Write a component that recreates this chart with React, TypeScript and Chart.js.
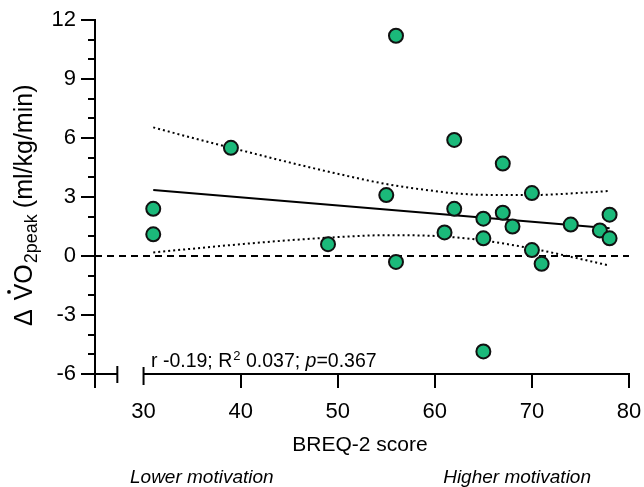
import React, { useEffect, useRef } from "react";
import { Chart, registerables } from "chart.js";

Chart.register(...registerables);

// ---- data ----
const breqScores = [31, 31, 39, 49, 55, 56, 56, 61, 62, 62, 65, 65, 65, 67, 67, 68, 70, 70, 71, 74, 77, 78, 78];
const vo2Change = [2.4, 1.1, 5.5, 0.6, 3.1, 11.2, -0.3, 1.2, 5.9, 2.4, 1.9, 0.9, -4.85, 4.7, 2.2, 1.5, 3.2, 0.3, -0.4, 1.6, 1.3, 2.1, 0.9];

const fitX = [31, 78];
const fitY = [3.36, 1.41];

const bandX = [31, 35, 40, 45, 50, 55, 60, 62, 65, 70, 75, 78];
const bandUpper = [6.54, 6.01, 5.38, 4.76, 4.18, 3.66, 3.3, 3.19, 3.11, 3.1, 3.21, 3.31];
const bandLower = [0.18, 0.37, 0.6, 0.8, 0.96, 1.06, 1.02, 0.95, 0.79, 0.38, -0.15, -0.49];

const zeroLineX = [25, 80];
const zeroLineY = [0, 0];

const xTicks = [25, 30, 40, 50, 60, 70, 80];
const yTicks = [-6, -3, 0, 3, 6, 9, 12];
const yMinorTicks = [-5, -4, -2, -1, 1, 2, 4, 5, 7, 8, 10, 11];
const xBreakEnd = 27.3;

const xTitle = "BREQ-2 score";
const lowLabel = "Lower motivation";
const highLabel = "Higher motivation";

const FONT = '"Liberation Sans", Arial, Helvetica, sans-serif';
const GREEN = "#1bb97a";

const overlayPlugin = {
  id: "overlay",
  afterDraw(chart: any) {
    const { ctx, chartArea } = chart;
    const x = chart.scales.x;
    const y = chart.scales.y;
    const axisY = Math.round(y.getPixelForValue(-6));
    const left = chartArea.left;
    const line = (x1: number, y1: number, x2: number, y2: number) => {
      ctx.beginPath();
      ctx.moveTo(x1, y1);
      ctx.lineTo(x2, y2);
      ctx.stroke();
    };
    ctx.save();
    ctx.strokeStyle = "#000";
    ctx.lineWidth = 2;
    ctx.lineCap = "butt";
    ctx.setLineDash([]);
    // minor y ticks
    yMinorTicks.forEach((v) => {
      const py = Math.round(y.getPixelForValue(v));
      line(left - 7, py, left, py);
    });
    // broken x axis
    const x0 = x.getPixelForValue(25);
    const xb = x.getPixelForValue(xBreakEnd);
    const x30 = x.getPixelForValue(30);
    const x80 = x.getPixelForValue(80);
    line(x0 - 1, axisY, xb, axisY);
    line(xb, axisY - 8, xb, axisY + 9);
    line(x30, axisY, x80 + 1, axisY);
    line(x30, axisY - 7, x30, axisY + 11);

    ctx.fillStyle = "#000";
    ctx.textBaseline = "alphabetic";

    // y title (rotated)
    ctx.save();
    ctx.translate(32, 0);
    ctx.rotate(-Math.PI / 2);
    ctx.textAlign = "left";
    let u = -326;
    ctx.font = `25px ${FONT}`;
    ctx.fillText("\u0394", u, 0);
    u += ctx.measureText("\u0394").width + 9;
    const vW = ctx.measureText("V").width;
    ctx.fillText("V", u, 0);
    ctx.beginPath();
    ctx.arc(u + vW / 2, -23, 1.9, 0, Math.PI * 2);
    ctx.fill();
    u += vW;
    ctx.fillText("O", u, 0);
    u += ctx.measureText("O").width + 1;
    ctx.font = `18px ${FONT}`;
    ctx.fillText("2peak", u, 5);
    u += ctx.measureText("2peak").width + 6;
    ctx.font = `25px ${FONT}`;
    ctx.fillText("(ml/kg/min)", u, 0);
    ctx.restore();

    // x title
    ctx.textAlign = "center";
    ctx.font = `21px ${FONT}`;
    ctx.fillText(xTitle, 360, 451);

    // motivation labels
    ctx.font = `italic 19px ${FONT}`;
    ctx.textAlign = "left";
    ctx.fillText(lowLabel, 130, 483);
    ctx.textAlign = "right";
    ctx.fillText(highLabel, 591, 483);

    // stats annotation
    ctx.textAlign = "left";
    let sx = 151;
    const sy = 366.5;
    ctx.font = `19.5px ${FONT}`;
    const p1 = "r -0.19; R";
    ctx.fillText(p1, sx, sy);
    sx += ctx.measureText(p1).width + 1;
    ctx.font = `13px ${FONT}`;
    ctx.fillText("2", sx, sy - 7);
    sx += ctx.measureText("2").width;
    ctx.font = `19.5px ${FONT}`;
    const p2 = " 0.037; ";
    ctx.fillText(p2, sx, sy);
    sx += ctx.measureText(p2).width;
    ctx.font = `italic 19.5px ${FONT}`;
    ctx.fillText("p", sx, sy);
    sx += ctx.measureText("p").width;
    ctx.font = `19.5px ${FONT}`;
    ctx.fillText("=0.367", sx, sy);
    ctx.restore();
  },
};

export default function App() {
  const canvasRef = useRef<HTMLCanvasElement | null>(null);

  useEffect(() => {
    document.body.style.margin = "0";
    const canvas = canvasRef.current;
    if (!canvas) return;
    const toPts = (xs: number[], ys: number[]) => xs.map((v, i) => ({ x: v, y: ys[i] }));
    const chart = new Chart(canvas, {
      type: "scatter",
      data: {
        datasets: [
          {
            label: "Participants",
            data: toPts(breqScores, vo2Change),
            backgroundColor: GREEN,
            borderColor: "#111",
            borderWidth: 2,
            pointRadius: 7,
            pointHoverRadius: 7,
          },
          {
            label: "Regression",
            data: toPts(fitX, fitY),
            showLine: true,
            borderColor: "#000",
            borderWidth: 2,
            pointRadius: 0,
          },
          {
            label: "Upper 95% CI",
            data: toPts(bandX, bandUpper),
            showLine: true,
            borderColor: "#000",
            borderWidth: 2,
            borderDash: [2, 3],
            pointRadius: 0,
            cubicInterpolationMode: "monotone",
          },
          {
            label: "Lower 95% CI",
            data: toPts(bandX, bandLower),
            showLine: true,
            borderColor: "#000",
            borderWidth: 2,
            borderDash: [2, 3],
            pointRadius: 0,
            cubicInterpolationMode: "monotone",
          },
          {
            label: "Zero",
            data: toPts(zeroLineX, zeroLineY),
            showLine: true,
            borderColor: "#000",
            borderWidth: 2,
            borderDash: [7, 5],
            pointRadius: 0,
          },
        ],
      },
      options: {
        animation: false,
        responsive: false,
        devicePixelRatio: 1,
        layout: { padding: { top: 20, right: 15, left: 0, bottom: 0 } },
        plugins: { legend: { display: false }, tooltip: { enabled: false } },
        scales: {
          x: {
            type: "linear",
            min: 25,
            max: 80,
            afterBuildTicks: (s: any) => {
              s.ticks = xTicks.map((v) => ({ value: v }));
            },
            afterFit: (s: any) => {
              s.height = 113;
              s.paddingLeft = 0;
              s.paddingRight = 0;
            },
            ticks: {
              font: { family: FONT, size: 22 },
              color: "#000",
              padding: 11,
              autoSkip: false,
              maxRotation: 0,
              callback: (v: any) => (v === 25 ? "" : String(v)),
            },
            grid: {
              drawOnChartArea: false,
              drawTicks: true,
              tickLength: 14,
              tickWidth: 2,
              lineWidth: 2,
              color: "#000",
              tickColor: (c: any) => (c.tick && c.tick.value === 30 ? "rgba(0,0,0,0)" : "#000"),
            },
            border: { display: false },
          },
          y: {
            type: "linear",
            min: -6,
            max: 12,
            afterBuildTicks: (s: any) => {
              s.ticks = yTicks.map((v) => ({ value: v }));
            },
            afterFit: (s: any) => {
              s.width = 95;
              s.paddingTop = 0;
              s.paddingBottom = 0;
            },
            ticks: {
              font: { family: FONT, size: 22 },
              color: "#000",
              padding: 5,
              autoSkip: false,
            },
            grid: {
              drawOnChartArea: false,
              drawTicks: true,
              tickLength: 14,
              tickWidth: 2,
              lineWidth: 2,
              color: "#000",
              tickColor: "#000",
            },
            border: { display: true, color: "#000", width: 2 },
          },
        },
      },
      plugins: [overlayPlugin],
    } as any);
    return () => chart.destroy();
  }, []);

  return (
    <div style={{ position: "absolute", left: 0, top: 0, width: 644, height: 487 }}>
      <canvas ref={canvasRef} width={644} height={487} style={{ display: "block" }} />
    </div>
  );
}
